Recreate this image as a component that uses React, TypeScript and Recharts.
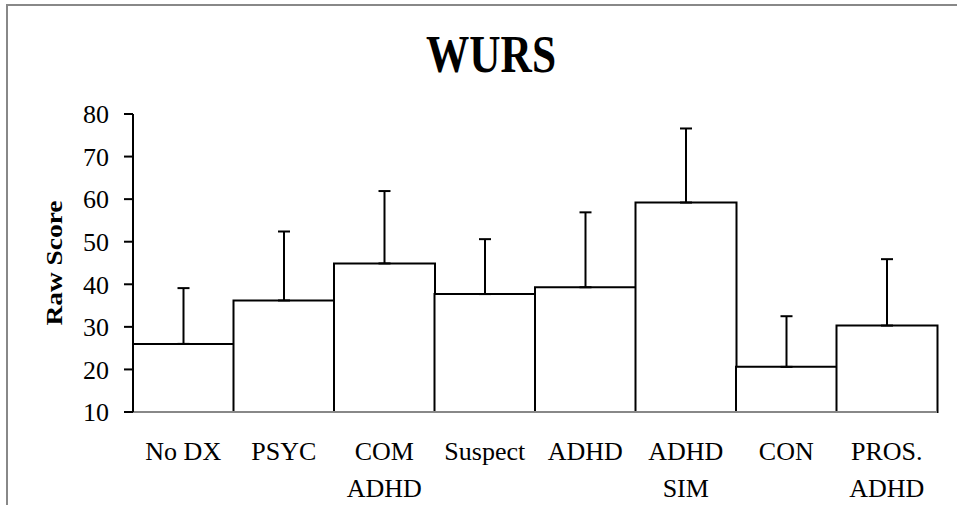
import React from 'react';
import { BarChart, Bar, XAxis, YAxis, ErrorBar } from 'recharts';

const groups = ['No DX', 'PSYC', 'COM ADHD', 'Suspect', 'ADHD', 'ADHD SIM', 'CON', 'PROS. ADHD'];
const tickLines = [['No DX'], ['PSYC'], ['COM', 'ADHD'], ['Suspect'], ['ADHD'], ['ADHD', 'SIM'], ['CON'], ['PROS.', 'ADHD']];
const means = [26, 36.2, 44.9, 37.7, 39.3, 59.2, 20.6, 30.3];
const sdUp = [13.1, 16.2, 17.0, 12.9, 17.6, 17.4, 11.9, 15.6];
const yTicks = [10, 20, 30, 40, 50, 60, 70, 80];

const data = groups.map((name, i) => ({ name, idx: i, score: means[i], err: [0, sdUp[i]] }));

const font = '"Liberation Serif", "Times New Roman", serif';

const XTick = (props: any) => {
  const { x, y, index } = props;
  const lines = tickLines[index] || [];
  return (
    <g>
      {lines.map((l, k) => (
        <text key={k} x={x} y={y + 48 + k * 37} textAnchor="middle" fontFamily={font} fontSize={26} fill="#000">
          {l}
        </text>
      ))}
    </g>
  );
};

export default function App() {
  return (
    <div style={{ position: 'fixed', left: 0, top: 0, width: 957, height: 505, background: '#fff' }}>
      <BarChart
        width={957}
        height={505}
        data={data}
        margin={{ top: 114, right: 20, bottom: 0, left: 0 }}
        barCategoryGap={0}
        barGap={0}
      >
        <XAxis
          dataKey="name"
          axisLine={{ stroke: '#888', strokeWidth: 2 }}
          tickLine={false}
          tickSize={0}
          tickMargin={0}
          interval={0}
          height={93}
          tick={<XTick />}
        />
        <YAxis
          domain={[10, 80]}
          ticks={yTicks}
          width={133}
          axisLine={{ stroke: '#000', strokeWidth: 2 }}
          tickLine={{ stroke: '#000', strokeWidth: 2 }}
          tickSize={9}
          tickMargin={15}
          tick={{ fill: '#000', fontSize: 26, fontFamily: font }}
        />
        <Bar dataKey="score" fill="#fff" stroke="#000" strokeWidth={2} isAnimationActive={false}>
          <ErrorBar dataKey="err" direction="y" width={6} stroke="#000" strokeWidth={2} isAnimationActive={false} />
        </Bar>
      </BarChart>
      <svg width={957} height={505} style={{ position: 'absolute', left: 0, top: 0, pointerEvents: 'none' }}>
        <line x1={6} y1={5} x2={957} y2={5} stroke="#888" strokeWidth={2} />
        <line x1={7} y1={5} x2={7} y2={505} stroke="#888" strokeWidth={2} />
        <text x={491} y={72} textAnchor="middle" fontFamily={font} fontWeight="bold" fontSize={52} textLength={130} lengthAdjust="spacingAndGlyphs" fill="#000">
          WURS
        </text>
        <text
          transform="translate(62,263) rotate(-90)"
          textAnchor="middle"
          fontFamily={font}
          fontWeight="bold"
          fontSize={24}
          textLength={125}
          lengthAdjust="spacingAndGlyphs"
          fill="#000"
        >
          Raw Score
        </text>
      </svg>
    </div>
  );
}
